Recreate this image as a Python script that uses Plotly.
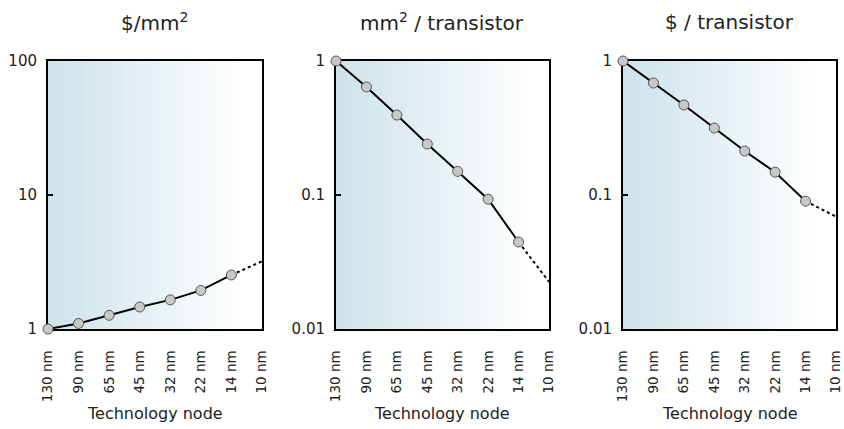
import math
import plotly.graph_objects as go

# Technology nodes along the x axis
nodes = ["130 nm", "90 nm", "65 nm", "45 nm", "32 nm", "22 nm", "14 nm", "10 nm"]

# Normalised values per node (130 nm = 1); the 10 nm value is a projection
cost_per_area = [1.0, 1.10, 1.265, 1.46, 1.65, 1.94, 2.53, 3.2]
area_per_transistor = [1.0, 0.64, 0.395, 0.24, 0.15, 0.093, 0.0446, 0.0225]
cost_per_transistor = [1.0, 0.685, 0.47, 0.316, 0.213, 0.148, 0.090, 0.069]

panels = [
    ("$/mm<sup>2</sup>", cost_per_area, [1, 100], [1, 10, 100], ["1", "10", "100"]),
    ("mm<sup>2</sup> / transistor", area_per_transistor, [0.01, 1], [0.01, 0.1, 1], ["0.01", "0.1", "1"]),
    ("$ / transistor", cost_per_transistor, [0.01, 1], [0.01, 0.1, 1], ["0.01", "0.1", "1"]),
]

W, H = 844, 429
x_px = [(48, 262), (336, 549), (623, 836)]
y_px = (61, 329)
y_dom = [1 - y_px[1] / H, 1 - y_px[0] / H]

FONT = "DejaVu Sans, Verdana, sans-serif"
TXT = "#222222"
fig = go.Figure()
shapes = []
annotations = []

left_rgb = (205, 226, 234)
n_strips = 60

for i, (title, vals, yr, tv, tt) in enumerate(panels):
    k = "" if i == 0 else str(i + 1)
    xa, ya = "x" + k, "y" + k
    x_dom = [x_px[i][0] / W, x_px[i][1] / W]

    # dotted projection first so the markers sit above it
    fig.add_trace(go.Scatter(
        x=nodes[6:], y=vals[6:], xaxis=xa, yaxis=ya, mode="lines",
        line=dict(color="black", width=2, dash="dot"),
        cliponaxis=False, showlegend=False, hoverinfo="skip",
    ))
    fig.add_trace(go.Scatter(
        x=nodes[:7], y=vals[:7], xaxis=xa, yaxis=ya, mode="lines+markers",
        line=dict(color="black", width=2),
        marker=dict(size=10, color="#c8c8c8", line=dict(color="#555555", width=1)),
        cliponaxis=False, showlegend=False, hoverinfo="x+y",
    ))

    axis_common = dict(showline=True, linecolor="black", linewidth=2, mirror=True,
                       showgrid=False, zeroline=False, layer="below traces",
                       automargin=False)
    fig.update_layout(**{
        ("xaxis" + k): dict(domain=x_dom, anchor=ya, type="category",
                            categoryorder="array", categoryarray=nodes,
                            range=[0, 7], tickangle=-90, ticks="",
                            ticklabelstandoff=14,
                            tickfont=dict(size=13.5, color=TXT, family=FONT),
                            **axis_common),
        ("yaxis" + k): dict(domain=y_dom, anchor=xa, type="log",
                            range=[math.log10(yr[0]), math.log10(yr[1])],
                            tickvals=tv, ticktext=tt, ticks="inside", ticklen=5,
                            tickwidth=2, tickcolor="black", ticklabelstandoff=6,
                            tickfont=dict(size=15, color=TXT, family=FONT),
                            **axis_common),
    })

    # soft blue-to-white gradient behind each panel
    for s in range(n_strips):
        t = s / (n_strips - 1)
        f = min(1.0, t / 0.92)
        r, g, b = (round(c + (255 - c) * f) for c in left_rgb)
        shapes.append(dict(type="rect", xref=xa + " domain", yref=ya + " domain",
                           x0=s / n_strips, x1=(s + 1) / n_strips + 0.002, y0=0, y1=1,
                           fillcolor=f"rgb({r},{g},{b})", line=dict(width=0),
                           layer="below"))

    cx = (x_dom[0] + x_dom[1]) / 2
    annotations.append(dict(text=title, x=cx, y=1 - 22 / H, xref="paper", yref="paper",
                            showarrow=False, xanchor="center", yanchor="middle",
                            font=dict(size=20, color=TXT, family=FONT)))
    annotations.append(dict(text="Technology node", x=cx, y=1 - 413 / H,
                            xref="paper", yref="paper", showarrow=False,
                            xanchor="center", yanchor="middle",
                            font=dict(size=16, color=TXT, family=FONT)))

fig.update_layout(width=W, height=H, margin=dict(l=0, r=0, t=0, b=0),
                  paper_bgcolor="white", plot_bgcolor="white",
                  shapes=shapes, annotations=annotations,
                  font=dict(family=FONT))

fig.write_html("out.html")
